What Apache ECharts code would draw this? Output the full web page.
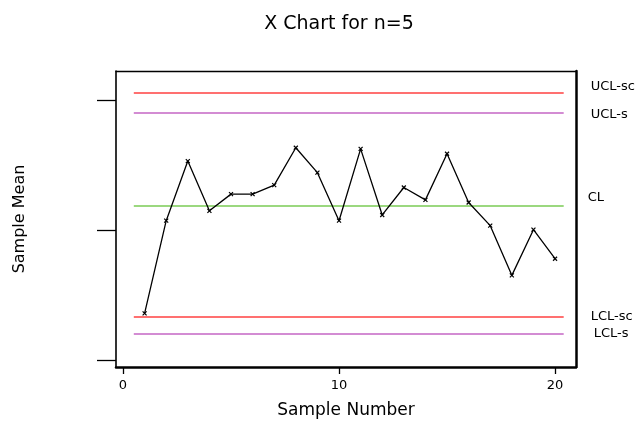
<!DOCTYPE html>
<html>
<head>
  <meta charset="utf-8">
</head>
<body style="margin: 0">
  <div id="container" style="width: 644px; height: 424px"></div>
  <script src="https://cdn.jsdelivr.net/npm/echarts@6/dist/echarts.min.js"></script>
  <script>
    // sample means
    var samples = [1, 2, 3, 4, 5, 6, 7, 8, 9, 10, 11, 12, 13, 14, 15, 16, 17, 18, 19, 20];
    var sampleMeans = [13.59, 20.71, 25.29, 21.47, 22.75, 22.75, 23.44, 26.31, 24.40, 20.71,
                       26.23, 21.15, 23.26, 22.31, 25.85, 22.11, 20.33, 16.51, 20.02, 17.79];
    var limitNames = ['UCL-sc', 'UCL-s', 'CL', 'LCL-sc', 'LCL-s'];
    var limitValues = [30.53, 29.0, 21.85, 13.36, 12.06];
    var xTicks = [0, 10, 20];
    var yTicks = [10, 20, 30];

    var limitColors = ['#ff4040', '#c466c4', '#7acb55', '#ff4040', '#c466c4'];
    var labelShift = [[27, -6], [27, 2], [24, -8], [27, 0], [30, 0]];
    var font = 'DejaVu Sans, sans-serif';

    var chart = echarts.init(document.getElementById('container'), null, { renderer: 'canvas' });

    var points = samples.map(function (s, i) { return [s, sampleMeans[i]]; });
    var limitLines = limitValues.map(function (v, i) {
      return [
        { coord: [0.5, v], lineStyle: { color: limitColors[i], width: 1.5, type: 'solid' } },
        { coord: [20.4, v] }
      ];
    });

    var option = {
      animation: false,
      title: {
        text: 'X Chart for n=5',
        left: 334,
        top: 10,
        textAlign: 'center',
        textStyle: { fontFamily: font, fontSize: 19, fontWeight: 'normal', color: '#000' }
      },
      grid: { left: 116, top: 71, right: 68, bottom: 55 },
      xAxis: [{
        type: 'value',
        min: -0.324,
        max: 20.97,
        name: 'Sample Number',
        nameLocation: 'middle',
        nameGap: 35,
        nameTextStyle: { fontFamily: font, fontSize: 17, color: '#000' },
        axisLine: { onZero: false, lineStyle: { color: '#000', width: 2.5 } },
        axisTick: { length: 7, customValues: xTicks, lineStyle: { color: '#000', width: 1.3 } },
        axisLabel: { customValues: xTicks, margin: 12, fontFamily: font, fontSize: 13, color: '#000' },
        splitLine: { show: false }
      }, {
        type: 'value',
        position: 'top',
        min: -0.324,
        max: 20.97,
        axisLine: { onZero: false, lineStyle: { color: '#000', width: 1.3 } },
        axisTick: { show: false },
        axisLabel: { show: false },
        splitLine: { show: false }
      }],
      yAxis: [{
        type: 'value',
        min: 9.47,
        max: 32.21,
        name: 'Sample Mean',
        nameLocation: 'middle',
        nameGap: 88,
        nameTextStyle: { fontFamily: font, fontSize: 16, color: '#000' },
        axisLine: { onZero: false, lineStyle: { color: '#000', width: 1.6 } },
        axisTick: { length: 19, customValues: yTicks, lineStyle: { color: '#000', width: 1.3 } },
        axisLabel: { show: false },
        splitLine: { show: false }
      }, {
        type: 'value',
        position: 'right',
        min: 9.47,
        max: 32.21,
        axisLine: { show: true, onZero: false, lineStyle: { color: '#000', width: 2.5 } },
        axisTick: { show: false },
        axisLabel: { show: false },
        splitLine: { show: false }
      }],
      series: [{
        type: 'line',
        data: points,
        symbol: 'path://M0,0L10,10M10,0L0,10',
        symbolSize: 4,
        showSymbol: true,
        lineStyle: { color: '#000', width: 1.3 },
        itemStyle: { color: '#000', borderColor: '#000', borderWidth: 1.2 },
        z: 5,
        markLine: {
          silent: true,
          symbol: 'none',
          label: { show: false },
          data: limitLines
        }
      }]
    };

    chart.setOption(option);

    // right-hand labels for the control limits
    var texts = limitNames.map(function (name, i) {
      var p = chart.convertToPixel({ gridIndex: 0 }, [20.4, limitValues[i]]);
      return {
        type: 'text',
        x: p[0] + labelShift[i][0],
        y: p[1] + labelShift[i][1],
        style: {
          text: name,
          fill: '#000',
          font: '13px ' + font,
          textAlign: 'left',
          textVerticalAlign: 'middle'
        }
      };
    });
    chart.setOption({ graphic: texts });

    window.addEventListener('resize', chart.resize);
  </script>
</body>
</html>
